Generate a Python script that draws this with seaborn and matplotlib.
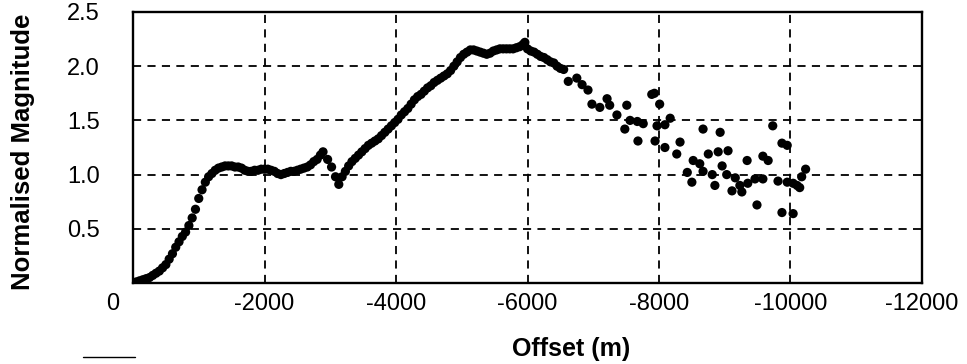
import matplotlib
matplotlib.use("Agg")
import matplotlib.pyplot as plt
import matplotlib.transforms as mtransforms
from matplotlib.lines import Line2D
import seaborn as sns
import pandas as pd

# ---- data ----
dense_offset = [0, -50, -100, -150, -200, -250, -300, -350, -400, -450,
                -500, -550, -600, -650, -700, -750, -800, -850, -900, -950,
                -1000, -1050, -1100, -1150, -1200, -1250, -1300, -1350, -1400, -1450,
                -1500, -1550, -1600, -1650, -1700, -1750, -1800, -1850, -1900, -1950,
                -2000, -2050, -2100, -2150, -2200, -2250, -2300, -2350, -2400, -2450,
                -2500, -2550, -2600, -2650, -2700, -2750, -2800, -2850, -2890, -2960,
                -3020, -3080, -3130,
                -3180, -3230, -3280, -3330, -3380, -3430, -3480, -3530, -3580, -3630,
                -3680, -3730, -3780, -3830, -3880, -3930, -3980, -4030, -4080, -4130,
                -4180, -4230, -4280, -4330, -4380, -4430, -4480, -4530, -4580, -4630,
                -4680, -4730, -4780, -4830, -4880, -4930, -4980, -5030, -5080, -5130,
                -5180, -5230, -5280, -5330, -5380, -5430, -5480, -5530, -5580, -5630,
                -5680, -5730, -5780, -5830, -5880, -5930, -5960, -6000, -6050, -6100,
                -6150, -6200, -6250, -6300, -6350, -6400, -6450, -6500, -6550]
dense_magnitude = [0.00, 0.01, 0.02, 0.03, 0.04, 0.05, 0.07, 0.09, 0.11, 0.14,
                   0.17, 0.22, 0.27, 0.33, 0.38, 0.43, 0.47, 0.53, 0.60, 0.68,
                   0.78, 0.86, 0.93, 0.98, 1.01, 1.04, 1.06, 1.07, 1.08, 1.08,
                   1.08, 1.07, 1.07, 1.06, 1.04, 1.03, 1.03, 1.04, 1.04, 1.05,
                   1.05, 1.05, 1.04, 1.03, 1.01, 1.00, 1.01, 1.02, 1.03, 1.03,
                   1.04, 1.05, 1.06, 1.07, 1.09, 1.12, 1.14, 1.18, 1.21, 1.14,
                   1.07, 0.98, 0.91,
                   0.98, 1.03, 1.08, 1.12, 1.15, 1.18, 1.21, 1.24, 1.27, 1.29,
                   1.31, 1.33, 1.36, 1.39, 1.42, 1.45, 1.48, 1.51, 1.55, 1.58,
                   1.61, 1.65, 1.69, 1.72, 1.74, 1.77, 1.80, 1.82, 1.85, 1.87,
                   1.89, 1.91, 1.93, 1.96, 2.00, 2.04, 2.08, 2.11, 2.13, 2.15,
                   2.15, 2.14, 2.13, 2.12, 2.11, 2.12, 2.14, 2.15, 2.16, 2.16,
                   2.16, 2.16, 2.16, 2.17, 2.18, 2.20, 2.22, 2.16, 2.14, 2.13,
                   2.11, 2.09, 2.08, 2.06, 2.04, 2.03, 2.00, 1.98, 1.97]

scatter_offset = [-6620, -6750, -6830, -6920, -6980, -7100, -7210, -7250, -7360, -7510,
                  -7480, -7560, -7670, -7760, -7680, -7890, -7930, -7940, -8010, -7970,
                  -8090, -8090, -8170, -8320, -8270, -8430, -8500, -8520, -8620, -8670,
                  -8670, -8750, -8810, -8850, -8900, -8930, -8960, -9030, -9050, -9110,
                  -9160, -9230, -9260, -9340, -9350, -9460, -9490, -9580, -9580, -9660,
                  -9730, -9810, -9870, -9870, -9950, -9950, -10040, -10040, -10100, -10140,
                  -10170, -10230]
scatter_magnitude = [1.86, 1.89, 1.83, 1.78, 1.65, 1.62, 1.70, 1.64, 1.55, 1.64,
                     1.42, 1.50, 1.49, 1.47, 1.31, 1.74, 1.75, 1.31, 1.65, 1.45,
                     1.46, 1.25, 1.52, 1.30, 1.19, 1.02, 0.93, 1.13, 1.10, 1.03,
                     1.42, 1.19, 1.00, 0.90, 1.21, 1.39, 1.08, 1.00, 1.22, 0.85,
                     0.97, 0.90, 0.84, 1.13, 0.92, 0.96, 0.72, 0.96, 1.17, 1.13,
                     1.45, 0.94, 1.29, 0.65, 1.27, 0.93, 0.92, 0.64, 0.90, 0.88,
                     0.98, 1.05]

x_ticks = [0, -2000, -4000, -6000, -8000, -10000, -12000]
x_tick_labels = ["0", "-2000", "-4000", "-6000", "-8000", "-10000", "-12000"]
y_ticks = [0.5, 1.0, 1.5, 2.0, 2.5]
y_tick_labels = ["0.5", "1.0", "1.5", "2.0", "2.5"]

df = pd.DataFrame({
    "offset": dense_offset + scatter_offset,
    "magnitude": dense_magnitude + scatter_magnitude,
})

sns.set_theme(style="white")
plt.rcParams["font.family"] = ["Liberation Sans", "DejaVu Sans"]

W, H = 967, 364
fig = plt.figure(figsize=(W / 100, H / 100), dpi=100)
ax = fig.add_axes([133 / W, 1 - 283 / H, (922 - 133) / W, (283 - 12) / H])

sns.scatterplot(data=df, x="offset", y="magnitude", ax=ax, color="black",
                s=44, edgecolor="none", linewidth=0, legend=False, zorder=3)

ax.set_xlim(0, -12000)
ax.set_ylim(0, 2.5)
ax.set_xticks(x_ticks)
ax.set_xticklabels(x_tick_labels, fontsize=17)
ax.set_yticks(y_ticks)
ax.set_yticklabels(y_tick_labels, fontsize=17)
ax.tick_params(axis="x", length=0, pad=7, colors="black")
ax.tick_params(axis="y", length=0, pad=24, colors="black")

# dashed grid lines (excluding the frame)
ax.grid(False)
for xv in x_ticks[1:-1]:
    ax.axvline(xv, color="black", lw=1.3, ls=(0, (4.5, 3.5)), zorder=1)
for yv in y_ticks[:-1]:
    ax.axhline(yv, color="black", lw=1.3, ls=(0, (4.5, 3.5)), zorder=1)

for side in ["left", "bottom", "top", "right"]:
    ax.spines[side].set_visible(True)
    ax.spines[side].set_color("black")
    ax.spines[side].set_linewidth(1.7)

# shift the "0" x label to the left as in the reference
lbl0 = ax.get_xticklabels()[0]
lbl0.set_transform(lbl0.get_transform() +
                   mtransforms.ScaledTranslation(-20 / 100, 0, fig.dpi_scale_trans))

ax.set_xlabel("Offset (m)", fontsize=18, fontweight="bold", color="black")
ax.xaxis.set_label_coords((571 - 133) / (922 - 133), (283 - 337) / (283 - 12))
ax.set_ylabel("Normalised Magnitude", fontsize=18.5, fontweight="bold", color="black")
ax.yaxis.set_label_coords((35 - 133) / (922 - 133), (283 - 152) / (283 - 12))

# small scan mark at lower left
fig.add_artist(Line2D([83 / W, 135 / W], [1 - 357 / H, 1 - 357 / H],
                      color="black", lw=1.0))

fig.savefig("out.png", dpi=100)
